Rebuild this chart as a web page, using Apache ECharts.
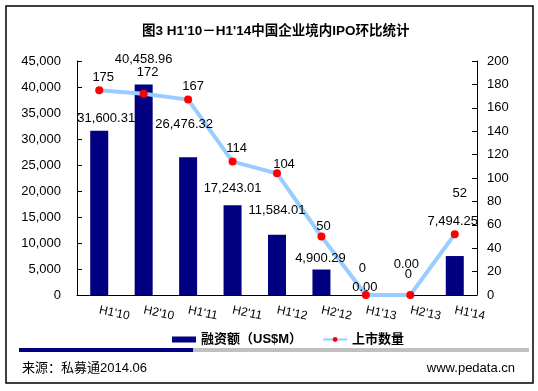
<!DOCTYPE html>
<html>
<head>
<meta charset="utf-8">
<script src="https://cdn.jsdelivr.net/npm/echarts@6/dist/echarts.min.js"></script>
<style>
html,body{margin:0;padding:0;background:#fff;}
#c{width:538px;height:391px;}
</style>
</head>
<body>
<div id="c"></div>
<script>
var categories = ["H1'10","H2'10","H1'11","H2'11","H1'12","H2'12","H1'13","H2'13","H1'14"];
var fundingValues = [31600.31, 40458.96, 26476.32, 17243.01, 11584.01, 4900.29, 0, 0, 7494.25];
var ipoCounts = [175, 172, 167, 114, 104, 50, 0, 0, 52];
var leftTicks = [0, 45000, 5000];
var rightTicks = [0, 200, 20];

var barLabelOffsets = [[7,-1],[0,-14],[-4,-21],[0,-5],[0,-12.5],[-1,0],[-1,4],[-4,-19],[-2,-23.5]];
var lineLabelOffsets = [[4,2.5],[4,-5.5],[5,2.5],[4,2],[7,6.5],[2,5.5],[-3.5,-11.5],[-2,-5.5],[5,-25.5]];

var FONT = "'Liberation Sans', Arial, 'Noto Sans CJK SC', sans-serif";

function fmt(v){
  return v.toLocaleString('en-US',{minimumFractionDigits:2, maximumFractionDigits:2});
}

var chart = echarts.init(document.getElementById('c'), null, {renderer:'canvas'});
var option = {
  animation:false,
  backgroundColor:'#fff',
  textStyle:{fontFamily:FONT},
  title:{
    text:"图3 H1'10－H1'14中国企业境内IPO环比统计",
    left:137, top:20,
    textStyle:{fontSize:13.5, fontWeight:'bold', color:'#000', fontFamily:FONT}
  },
  grid:{left:77, right:61, top:61, bottom:96, containLabel:false},
  legend:{
    left:167, top:328,
    itemWidth:24, itemHeight:6, itemGap:20,
    textStyle:{fontSize:13, fontWeight:'bold', color:'#000', fontFamily:FONT},
    data:[{name:'融资额（US$M）', icon:'rect'}, {name:'上市数量'}]
  },
  xAxis:{
    type:'category', data:categories,
    axisLine:{lineStyle:{color:'#000', width:1}},
    axisTick:{inside:true, length:5, alignWithLabel:false, lineStyle:{color:'#000'}},
    axisLabel:{interval:0, rotate:-12, align:'left', verticalAlign:'middle', margin:15, fontSize:12, color:'#000', fontFamily:FONT}
  },
  yAxis:[
    {type:'value', min:leftTicks[0], max:leftTicks[1], interval:leftTicks[2],
     axisLine:{show:true, lineStyle:{color:'#000'}},
     axisTick:{show:true, inside:true, length:5, lineStyle:{color:'#000'}},
     splitLine:{show:false},
     axisLabel:{fontSize:13, color:'#000', margin:16, fontFamily:FONT,
       formatter:function(v){return v.toLocaleString('en-US');}}},
    {type:'value', min:rightTicks[0], max:rightTicks[1], interval:rightTicks[2], position:'right',
     axisLine:{show:true, lineStyle:{color:'#000'}},
     axisTick:{show:true, inside:true, length:5, lineStyle:{color:'#000'}},
     splitLine:{show:false},
     axisLabel:{fontSize:13, color:'#000', margin:10, fontFamily:FONT}}
  ],
  series:[
    {name:'融资额（US$M）', type:'bar', yAxisIndex:0, barWidth:18, barGap:'-100%',
     itemStyle:{color:'#000080'},
     data:fundingValues.slice(),
     z:2
    },
    {name:'上市数量', type:'line', yAxisIndex:1,
     symbol:'circle', symbolSize:8,
     lineStyle:{color:'#99ccff', width:4},
     itemStyle:{color:'#ff0000', borderWidth:0},
     data:ipoCounts.map(function(v,i){
       return {value:v, label:{offset:lineLabelOffsets[i]}};
     }),
     label:{show:true, position:'top', distance:5, fontSize:13, color:'#000', fontFamily:FONT},
     z:3
    },
    {name:'融资额标签', type:'bar', yAxisIndex:0, barWidth:18, barGap:'-100%',
     itemStyle:{color:'rgba(0,0,0,0)'},
     silent:true, legendHoverLink:false,
     data:fundingValues.map(function(v,i){
       return {value:v, label:{offset:barLabelOffsets[i]}};
     }),
     label:{show:true, position:'top', distance:5, fontSize:13, color:'#000', fontFamily:FONT,
       formatter:function(p){return fmt(p.value);}},
     z:4
    }
  ],
  graphic:[
    {type:'rect', shape:{x:6, y:6, width:527, height:377}, style:{fill:'none', stroke:'#000', lineWidth:1.5}, silent:true},
    {type:'rect', shape:{x:19, y:348, width:174, height:4}, style:{fill:'#000080'}, silent:true},
    {type:'rect', shape:{x:193, y:348, width:336, height:4}, style:{fill:'#c0c0c0'}, silent:true},
    {type:'text', left:22, top:362, style:{text:'来源：私募通2014.06', fill:'#000', font:"13px "+FONT}},
    {type:'text', right:23, top:362, style:{text:'www.pedata.cn', fill:'#000', font:"13px "+FONT}}
  ]
};
chart.setOption(option);
</script>
</body>
</html>
